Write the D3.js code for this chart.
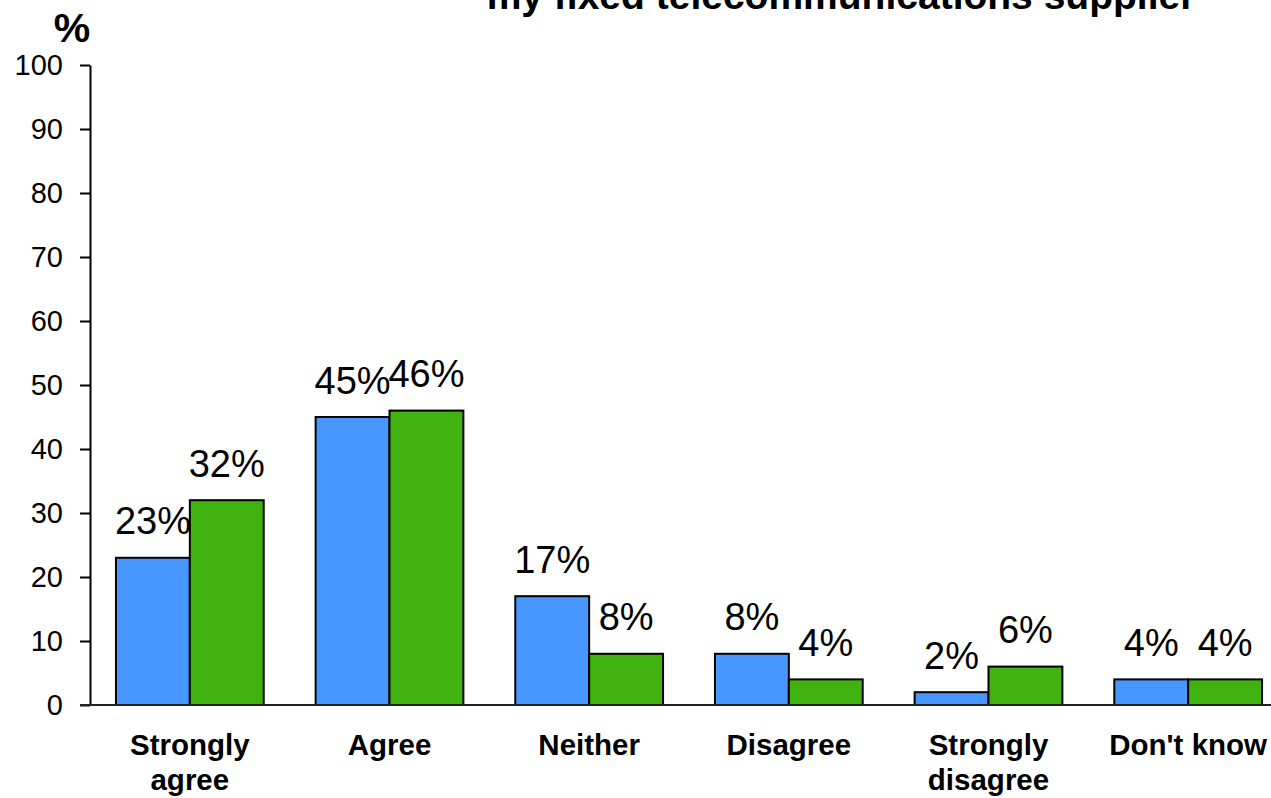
<!DOCTYPE html>
<html>
<head>
<meta charset="utf-8">
<script src="https://cdn.jsdelivr.net/npm/d3@7"></script>
<style>
  html, body { margin: 0; padding: 0; background: #fff; overflow: hidden; }
  svg { display: block; font-family: "Liberation Sans", Arial, sans-serif; }
</style>
</head>
<body>
<svg id="chart" width="1271" height="798"></svg>
<script>
// Survey responses, two waves per answer
const categories = [["Strongly", "agree"], ["Agree"], ["Neither"], ["Disagree"], ["Strongly", "disagree"], ["Don't know"]];
const seriesBlue = [23, 45, 17, 8, 2, 4];
const seriesGreen = [32, 46, 8, 4, 6, 4];
const yTicks = [0, 10, 20, 30, 40, 50, 60, 70, 80, 90, 100];
const titleLine = "my fixed telecommunications supplier";
const yUnit = "%";

const colors = ["#4896FF", "#41B311"];
const series = [seriesBlue, seriesGreen];

const svg = d3.select("#chart");
const plot = { left: 90, right: 1288, top: 65, bottom: 705 };

const x = d3.scaleBand()
  .domain(d3.range(categories.length))
  .range([plot.left, plot.right])
  .paddingInner(0.26)
  .paddingOuter(0.13);

const xSub = d3.scaleBand()
  .domain(d3.range(series.length))
  .range([0, x.bandwidth()]);

const y = d3.scaleLinear().domain([0, 100]).range([plot.bottom, plot.top]);

// Title (its upper part runs past the top edge)
svg.append("text")
  .attr("x", 841).attr("y", 9)
  .attr("text-anchor", "middle")
  .attr("font-weight", "bold")
  .attr("font-size", 39)
  .text(titleLine);

// Unit label
svg.append("text")
  .attr("x", 72).attr("y", 42)
  .attr("text-anchor", "middle")
  .attr("font-weight", "bold")
  .attr("font-size", 41)
  .text(yUnit);

// Bars
const groups = svg.append("g").selectAll("g")
  .data(categories.map((c, i) => i))
  .join("g")
  .attr("transform", i => `translate(${x(i)},0)`);

groups.selectAll("rect")
  .data(i => series.map((s, k) => ({ k, v: s[i] })))
  .join("rect")
  .attr("x", d => xSub(d.k))
  .attr("y", d => y(d.v))
  .attr("width", xSub.bandwidth())
  .attr("height", d => y(0) - y(d.v))
  .attr("fill", d => colors[d.k])
  .attr("stroke", "#000")
  .attr("stroke-width", 2);

groups.selectAll("text.val")
  .data(i => series.map((s, k) => ({ k, v: s[i] })))
  .join("text")
  .attr("class", "val")
  .attr("x", d => xSub(d.k) + xSub.bandwidth() / 2)
  .attr("y", d => y(d.v) - 23.5)
  .attr("text-anchor", "middle")
  .attr("font-size", 38)
  .text(d => d.v + "%");

// Y axis
const yAxis = svg.append("g")
  .attr("transform", `translate(${plot.left},0)`)
  .call(d3.axisLeft(y).tickValues(yTicks).tickSize(10).tickPadding(17).tickSizeOuter(0))
  .attr("font-size", 29)
  .attr("font-family", "Liberation Sans, Arial, sans-serif");
yAxis.select(".domain").attr("stroke", "#000").attr("stroke-width", 2);
yAxis.selectAll(".tick line").attr("stroke", "#000").attr("stroke-width", 2);
yAxis.selectAll(".tick text").attr("fill", "#000");

// X baseline
svg.append("line")
  .attr("x1", 80).attr("x2", plot.right)
  .attr("y1", y(0)).attr("y2", y(0))
  .attr("stroke", "#222").attr("stroke-width", 2);

// Category labels
const catLabels = svg.append("g").selectAll("text")
  .data(categories)
  .join("text")
  .attr("x", (c, i) => x(i) + x.bandwidth() / 2)
  .attr("y", 755)
  .attr("text-anchor", "middle")
  .attr("font-weight", "bold")
  .attr("font-size", 29.5);

catLabels.selectAll("tspan")
  .data(c => c)
  .join("tspan")
  .attr("x", function () { return this.parentNode.getAttribute("x"); })
  .attr("dy", (t, j) => j === 0 ? 0 : 35)
  .text(t => t);
</script>
</body>
</html>
